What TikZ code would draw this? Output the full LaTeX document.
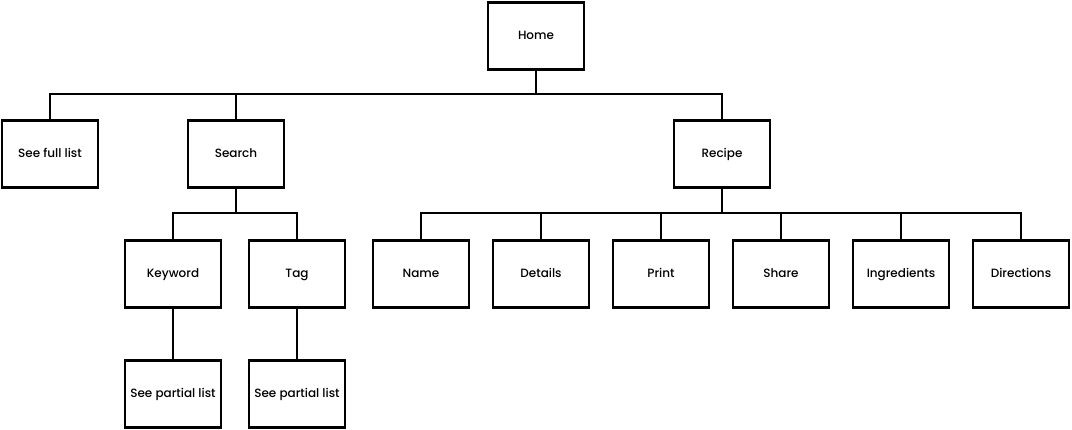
\documentclass[tikz,border=0pt]{standalone}
\usepackage{fontspec}
\setmainfont{Poppins}[UprightFont={* Medium}]
\usepackage{tikz}
\usetikzlibrary{positioning}

\begin{document}
\begin{tikzpicture}[
    x=1pt, y=1pt,
    box/.style={rectangle, draw, line width=2.4pt, minimum width=96pt, minimum height=67pt,
      inner sep=2pt, outer sep=0pt, text height=1.6ex, text depth=0.4ex,
      font=\fontsize{12}{14}\selectfont},
    link/.style={line width=2pt},
]
    \useasboundingbox (0,0) rectangle (1072,430);

    % top level
    \node[box] (home) at (536,394) {Home};

    % second level
    \node[box] (fulllist) at (50,276) {See full list};
    \node[box] (search) at (236,276) {Search};
    \node[box] (recipe) at (722,276) {Recipe};

    % search branch
    \node[box] (keyword) at (173,156) {Keyword};
    \node[box] (tag) at (297,156) {Tag};
    \node[box, below=53pt of keyword] (partkey) {See partial list};
    \node[box, below=53pt of tag] (parttag) {See partial list};

    % recipe branch
    \node[box] (name) at (421,156) {Name};
    \node[box, right=24pt of name] (details) {Details};
    \node[box, right=24pt of details] (print) {Print};
    \node[box, right=24pt of print] (share) {Share};
    \node[box, right=24pt of share] (ingred) {Ingredients};
    \node[box, right=24pt of ingred] (direct) {Directions};

    \foreach \child in {fulllist,search,recipe}
        \draw[link] (home.south) -- ++(0,-25) -| (\child.north);
    \foreach \child in {keyword,tag}
        \draw[link] (search.south) -- ++(0,-26) -| (\child.north);
    \foreach \child in {name,details,print,share,ingred,direct}
        \draw[link] (recipe.south) -- ++(0,-26) -| (\child.north);
    \draw[link] (keyword) -- (partkey);
    \draw[link] (tag) -- (parttag);
\end{tikzpicture}
\end{document}
